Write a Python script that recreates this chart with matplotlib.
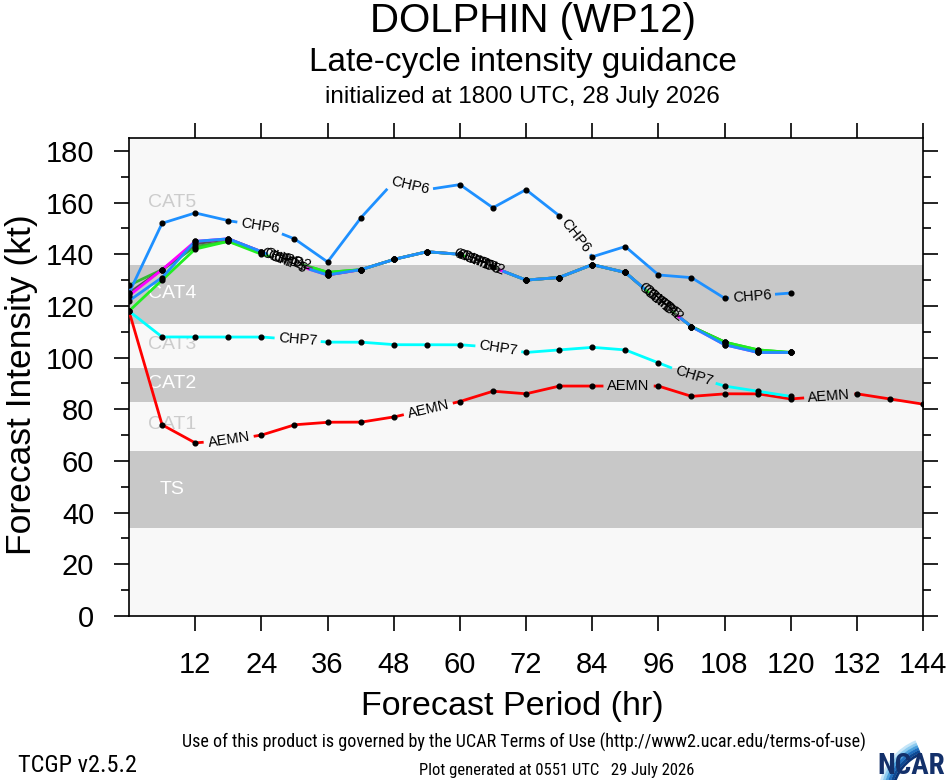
import matplotlib
matplotlib.use("Agg")
import numpy as np
import matplotlib.pyplot as plt
from matplotlib import font_manager
from matplotlib.patches import Wedge

# ---- data (kt) ----
hours = list(range(0, 121, 6))
hours_aemn = list(range(0, 145, 6))

aemn = [118, 74, 67, 68, 70, 74, 75, 75, 77, 80, 83, 87, 86, 89, 89, 89, 89, 85, 86, 86, 84, 85, 86, 84, 82]
chp7 = [118, 108, 108, 108, 108, 107, 106, 106, 105, 105, 105, 104, 102, 103, 104, 103, 98, 93, 89, 87, 85]
chp6 = [125, 152, 156, 153, 151, 146, 137, 154, 168, 165, 167, 158, 165, 155, 139, 143, 132, 131, 123, 124, 125]
chp1 = [128, 134, 143, 145, 141, 137, 133, 134, 138, 141, 140, 135, 130, 131, 136, 133, 122, 112, 106, 103, 102]
chp3 = [125, 134, 144, 146, 141, 137, 132, 134, 138, 141, 140, 135, 130, 131, 136, 133, 122, 112, 106, 102, 102]
chp4 = [124, 134, 145, 146, 141, 136, 132, 134, 138, 141, 140, 135, 130, 131, 136, 133, 122, 112, 105, 102, 102]
chp2 = [118, 130, 142, 145, 140, 137, 133, 134, 138, 141, 140, 135, 130, 131, 136, 133, 122, 112, 106, 103, 102]
chp5 = [122, 131, 145, 146, 141, 136, 132, 134, 138, 141, 140, 135, 130, 131, 136, 133, 122, 112, 105, 102, 102]

# hour where each line carries its name
lab_aemn = [18.1, 54.3, 90.6, 127.0]
lab_chp7 = [30.6, 67.0, 102.4]
lab_chp6 = [23.8, 51.0, 81.0, 113.0]
lab_chp1 = [27.4, 62.2, 95.3]
lab_chp3 = [27.9, 62.8, 95.8]
lab_chp4 = [28.4, 63.4, 96.3]
lab_chp5 = [28.9, 64.0, 96.8]
lab_chp2 = [29.5, 64.7, 97.4]

# Saffir-Simpson shading
band_lo = [34, 83, 113]
band_hi = [64, 96, 136]
cat_names = ["TS", "CAT1", "CAT2", "CAT3", "CAT4", "CAT5"]
cat_y = [49, 74, 90, 105, 125, 160]
cat_col = ["white", "#cccccc", "white", "#cccccc", "white", "#cccccc"]


def find_narrow():
    for fam in ["Liberation Sans Narrow", "Roboto Condensed", "Open Sans Condensed", "DejaVu Sans Condensed"]:
        try:
            font_manager.findfont(font_manager.FontProperties(family=fam), fallback_to_default=False)
            return fam, "normal", 1.0
        except Exception:
            pass
    for fam in ["DejaVu Sans", "Noto Sans", "Open Sans", "Roboto"]:
        f = font_manager.findfont(font_manager.FontProperties(family=fam, stretch="condensed"))
        if "ondensed" in f:
            return fam, "condensed", 0.95
    return "Liberation Sans", "normal", 0.82


plt.rcParams["font.family"] = ["Liberation Sans", "DejaVu Sans"]
nfam, nstretch, nscale = find_narrow()

fig = plt.figure(figsize=(9.46, 7.8), dpi=100)
ax = fig.add_axes([129 / 946, 164 / 780, 794 / 946, 478 / 780])
ax.set_facecolor("#f8f8f8")
ax.set_xlim(0, 144)
ax.set_ylim(0, 185)

for lo, hi in zip(band_lo, band_hi):
    ax.axhspan(lo, hi, color="#c8c8c8", lw=0, zorder=0)
for name, y, c in zip(cat_names, cat_y, cat_col):
    ax.text(7.8, y, name, color=c, fontsize=14, ha="center", va="center", zorder=1)


def draw_model(h, v, color, name, labs, r=22):
    h = np.asarray(h, float)
    v = np.asarray(v, float)
    hd = np.linspace(h[0], h[-1], 3000)
    vd = np.interp(hd, h, v)
    pts = ax.transData.transform(np.column_stack([hd, vd]))
    centers = []
    for at in labs:
        lv = np.interp(at, h, v)
        centers.append(ax.transData.transform((at, lv)))
        i = int(np.clip(np.searchsorted(h, at), 1, len(h) - 1))
        ang = np.degrees(np.arctan2(v[i] - v[i - 1], h[i] - h[i - 1]))
        ax.text(at, lv, name, fontsize=10.5, rotation=ang, transform_rotates_text=True,
                rotation_mode="anchor", ha="center", va="center", zorder=6)
    # break the line where its name sits
    mask = np.zeros(len(hd), bool)
    for c in centers:
        mask |= np.hypot(pts[:, 0] - c[0], pts[:, 1] - c[1]) < r
    vm = vd.copy()
    vm[mask] = np.nan
    ax.plot(hd, vm, color=color, lw=2.0, zorder=3, solid_capstyle="butt")
    pp = ax.transData.transform(np.column_stack([h, v]))
    keep = np.ones(len(h), bool)
    for c in centers:
        keep &= np.hypot(pp[:, 0] - c[0], pp[:, 1] - c[1]) > r - 2
    ax.plot(h[keep], v[keep], "o", ms=3.4, color="black", zorder=5)


draw_model(hours_aemn, aemn, "red", "AEMN", lab_aemn, r=25)
draw_model(hours, chp7, "cyan", "CHP7", lab_chp7, r=23)
draw_model(hours, chp1, "#33bb33", "CHP1", lab_chp1)
draw_model(hours, chp3, "#555555", "CHP3", lab_chp3)
draw_model(hours, chp4, "magenta", "CHP4", lab_chp4)
draw_model(hours, chp2, "#22ee22", "CHP2", lab_chp2)
draw_model(hours, chp5, "#1e90ff", "CHP5", lab_chp5)
draw_model(hours, chp6, "#1e90ff", "CHP6", lab_chp6, r=23)

ax.set_xticks(range(12, 145, 12))
ax.set_yticks(range(0, 181, 20))
ax.yaxis.set_minor_locator(matplotlib.ticker.MultipleLocator(10))
ax.tick_params(which="major", direction="out", length=11, width=1.2, labelsize=21, pad=14,
               top=True, right=True)
ax.tick_params(which="minor", direction="out", length=5.5, width=1.2, right=True)
for s in ax.spines.values():
    s.set_linewidth(1.2)

fig.text(22 / 946, 1 - 385 / 780, "Forecast Intensity (kt)", rotation=90, fontsize=25.5,
         ha="center", va="center")
fig.text(512 / 946, 1 - 707 / 780, "Forecast Period (hr)", fontsize=24.5, ha="center", va="center")

fig.text(533 / 946, 1 - 21 / 780, "DOLPHIN (WP12)", fontsize=29, ha="center", va="center")
fig.text(523 / 946, 1 - 62 / 780, "Late-cycle intensity guidance", fontsize=24, ha="center", va="center")
fig.text(522 / 946, 1 - 97 / 780, "initialized at 1800 UTC, 28 July 2026", fontsize=17.5,
         ha="center", va="center")

fig.text(524 / 946, 1 - 742 / 780,
         "Use of this product is governed by the UCAR Terms of Use (http://www2.ucar.edu/terms-of-use)",
         family=nfam, stretch=nstretch, fontsize=13.1 * nscale, ha="center", va="center")
fig.text(18 / 946, 1 - 766 / 780, "TCGP v2.5.2", family=nfam, stretch=nstretch,
         fontsize=17.5 * nscale, ha="left", va="center")
fig.text(557 / 946, 1 - 770 / 780, "Plot generated at 0551 UTC   29 July 2026", family=nfam,
         stretch=nstretch, fontsize=12 * nscale, ha="center", va="center")

# NCAR logo
lax = fig.add_axes([872 / 946, 0, 74 / 946, 42 / 780])
lax.set_xlim(0, 74)
lax.set_ylim(0, 42)
lax.axis("off")
blues = ["#c6e6f8", "#8ccbf0", "#4aa0dc", "#1f6fbf", "#0c4a95", "#0a3477"]
for k, c in enumerate(blues):
    lax.add_patch(Wedge((66, -16), 60 - 2.6 * k, 112, 170, width=2.8, color=c, lw=0))
lax.text(73, 0, "NCAR", family=nfam, stretch=nstretch, fontsize=21 * nscale, weight="bold",
         color="#13306a", ha="right", va="bottom")

fig.savefig("out.png", dpi=100)
